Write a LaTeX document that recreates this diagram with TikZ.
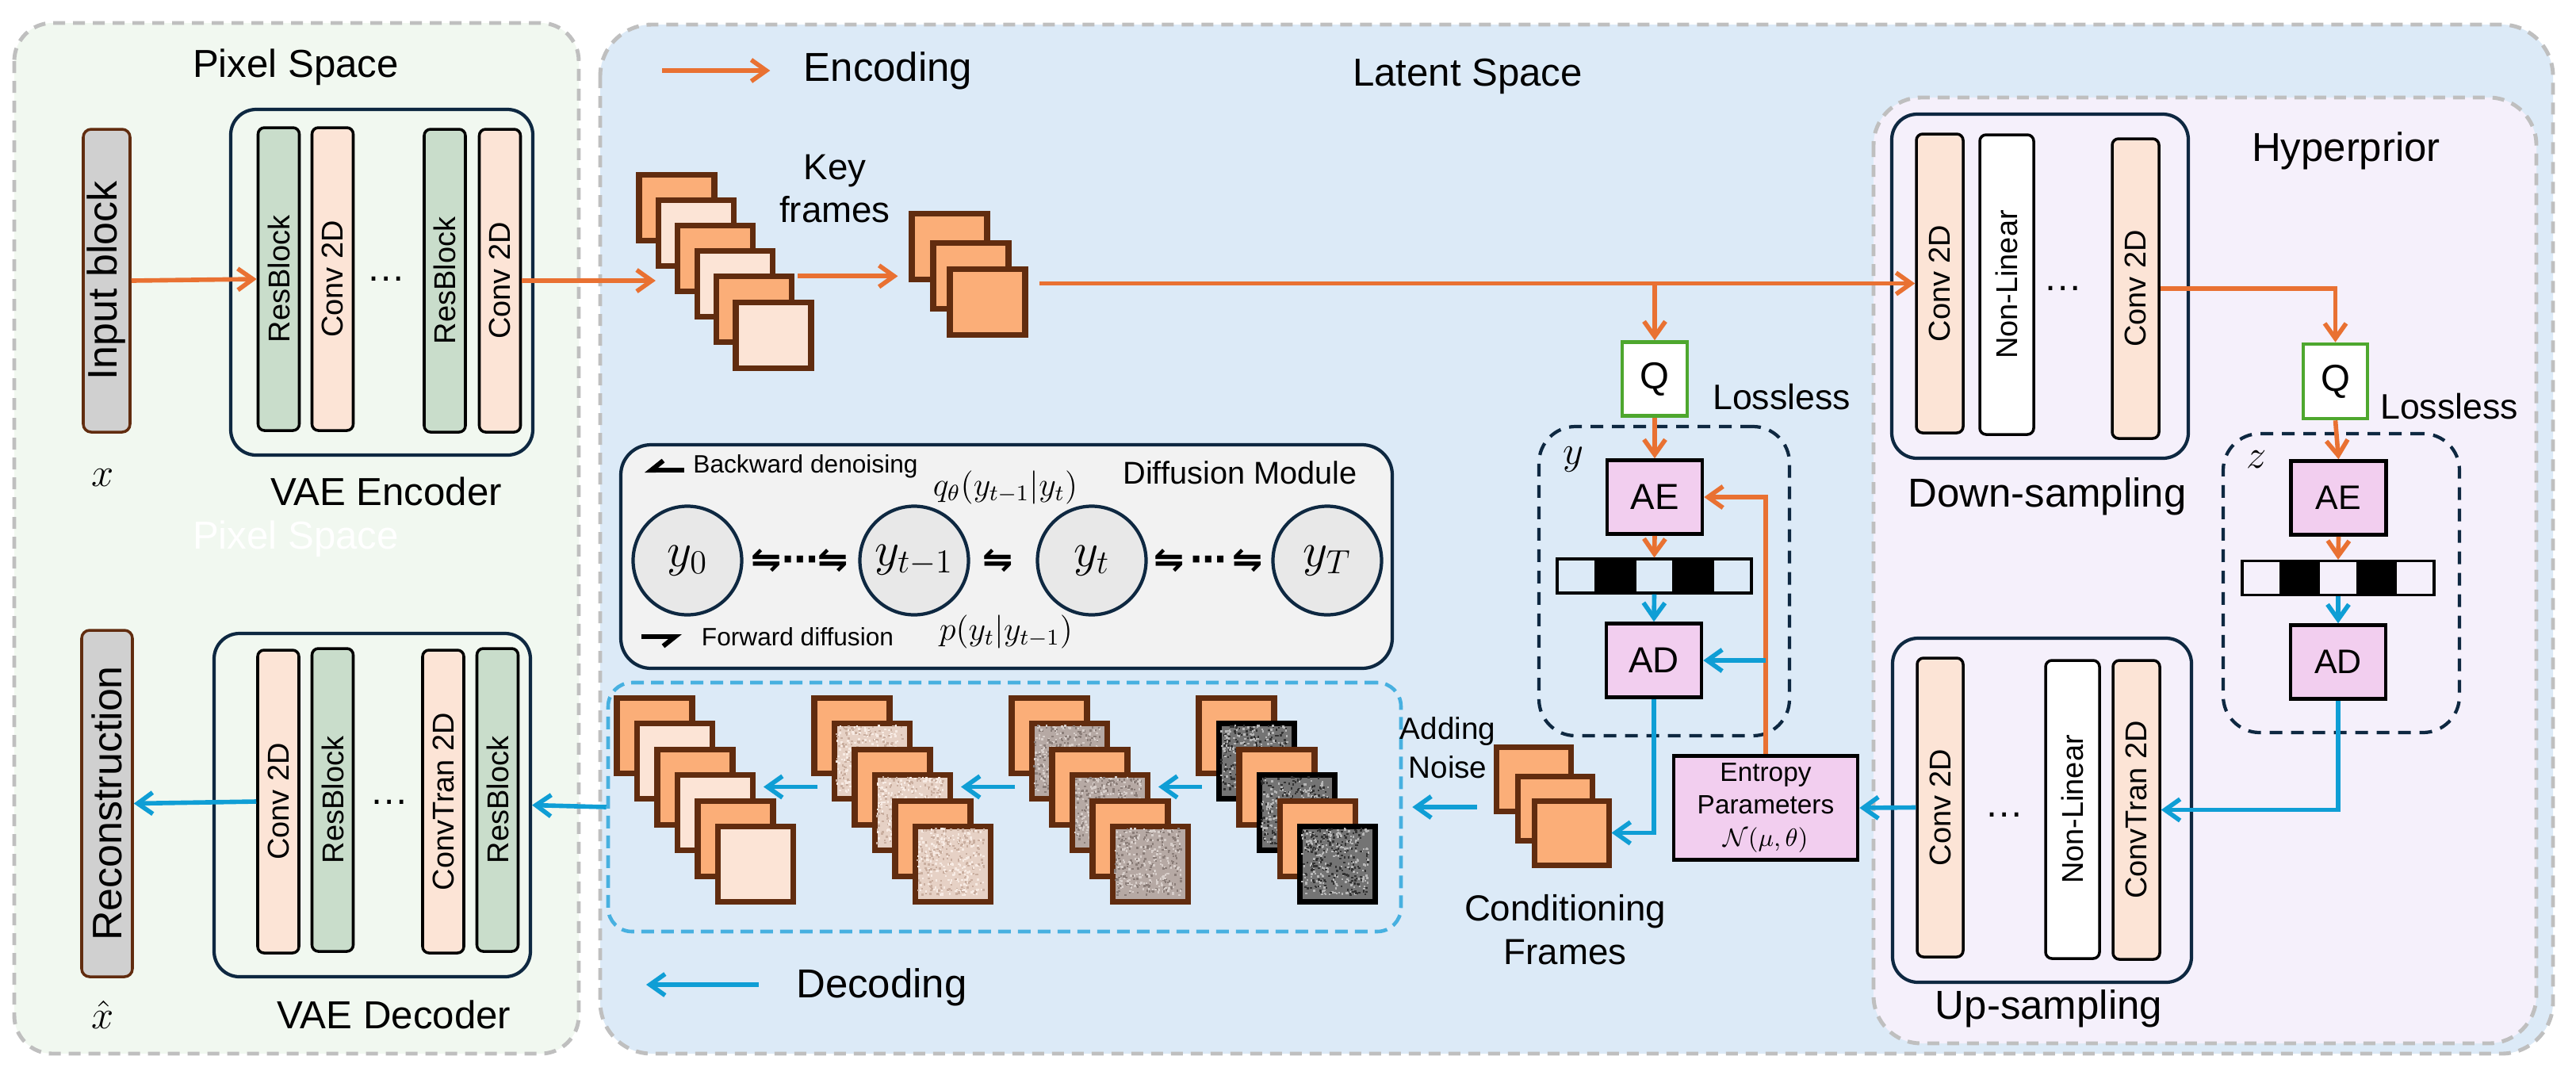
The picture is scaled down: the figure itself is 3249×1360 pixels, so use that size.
\documentclass[tikz,border=0pt]{standalone}
\usepackage{amsmath,amssymb}
\usepackage{fontspec}
\setmainfont{Liberation Sans}
\newfontfamily\harpfont{DejaVu Sans}
\usetikzlibrary{arrows.meta,calc,positioning}

\definecolor{pixelbg}{HTML}{F1F8F0}
\definecolor{latentbg}{HTML}{DCEAF7}
\definecolor{hyperbg}{HTML}{F5F0FB}
\definecolor{panelln}{HTML}{BFBFBF}
\definecolor{navy}{HTML}{0E2841}
\definecolor{brownln}{HTML}{612C0F}
\definecolor{peachdk}{HTML}{FBAE78}
\definecolor{peachlt}{HTML}{FCE4D6}
\definecolor{greenbk}{HTML}{C9DDCB}
\definecolor{grayin}{HTML}{D0D0D0}
\definecolor{encorange}{HTML}{E97132}
\definecolor{decblue}{HTML}{0F9ED5}
\definecolor{dashblue}{HTML}{47B0E0}
\definecolor{qgreen}{HTML}{4EA72E}
\definecolor{pinkbox}{HTML}{F2CEEF}
\definecolor{diffbg}{HTML}{F2F2F2}
\definecolor{circbg}{HTML}{E8E8E8}
\definecolor{noiseA}{HTML}{E6D1C5}
\definecolor{noiseAd}{HTML}{C9AE9F}
\definecolor{noiseAl}{HTML}{F7EBE4}
\definecolor{noiseB}{HTML}{B6A9A4}
\definecolor{noiseBd}{HTML}{8A7D78}
\definecolor{noiseBl}{HTML}{D8CFCB}
\definecolor{noiseC}{HTML}{747474}
\definecolor{noiseCd}{HTML}{333333}
\definecolor{noiseCl}{HTML}{B8B8B8}

\tikzset{
  panel/.style={draw=panelln, line width=1.4pt, dash pattern=on 1.5mm off 1mm},
  blk/.style={draw=navy, line width=1.2pt, rounded corners=3.2mm, inner sep=0},
  vbar/.style={draw=black, line width=1pt, rounded corners=0.8mm, inner sep=0,
    minimum width=5.2mm, minimum height=38.2mm, font=\fontsize{10.8}{13}\selectfont},
  ioblk/.style={draw=brownln, fill=grayin, line width=1pt, rounded corners=1mm, inner sep=0,
    font=\fontsize{14.8}{17}\selectfont},
  frame/.style={draw=brownln, line width=2pt, inner sep=0, minimum width=9.5mm, minimum height=8.3mm},
  sqf/.style={minimum height=9.5mm},
  pbox/.style={draw=black, line width=1.3pt, fill=pinkbox, inner sep=0,
    minimum width=12mm, minimum height=9.3mm, font=\fontsize{13}{15}\selectfont},
  qbox/.style={draw=qgreen, line width=1.3pt, fill=white, inner sep=0,
    minimum width=8.2mm, minimum height=9.3mm, font=\fontsize{13.5}{15}\selectfont},
  bitcell/.style={draw=black, line width=0.9pt, inner sep=0, minimum width=4.9mm, minimum height=4.3mm},
  ydash/.style={draw=navy, line width=1.2pt, dash pattern=on 1.6mm off 1.1mm, rounded corners=4.6mm, inner sep=0},
  circ/.style={circle, draw=navy, line width=1.2pt, fill=circbg, minimum size=13.7mm, inner sep=0,
    font=\fontsize{17}{20}\selectfont},
  hp/.style={font=\harpfont\bfseries\fontsize{13}{15}\selectfont, inner sep=0},
  dotsn/.style={font=\fontsize{14}{17}\selectfont, inner sep=0},
  ttl/.style={font=\fontsize{14}{17}\selectfont},
  big/.style={font=\fontsize{14.5}{17}\selectfont},
  mid/.style={font=\fontsize{13}{15.6}\selectfont, align=center},
  small/.style={font=\fontsize{9}{11}\selectfont},
  enc/.style={draw=encorange, line width=1.6pt, -{Straight Barb[length=1.9mm,width=2.7mm]}},
  dec/.style={draw=decblue, line width=1.6pt, -{Straight Barb[length=1.9mm,width=2.7mm]}},
  harp/.style={draw=black, line width=1.7pt, -{Straight Barb[harpoon,swap,length=1.5mm,width=2.4mm]}}
}

\begin{document}
\begin{tikzpicture}[x=0.1mm,y=-0.1mm]
\useasboundingbox (0,0) rectangle (3249,1360);
\fill[white] (0,0) rectangle (3249,1360);
\pgfmathsetseed{7}

\draw[panel, fill=pixelbg, rounded corners=4.8mm] (18,29) rectangle (730,1329);
\draw[panel, fill=latentbg, rounded corners=6.5mm] (757,31) rectangle (3220,1329);
\draw[panel, fill=hyperbg, rounded corners=6mm] (2363,123) rectangle (3199,1316);

\node[ttl] (pixlbl) at (373,85) {Pixel Space};
\node[ttl, text=white] (pixghost) at (373,680) {Pixel Space};
\node[ttl] (latlbl) at (1851,96) {Latent Space};
\node[big] (hyplbl) at (2959,190) {Hyperprior};

\node[ioblk, minimum width=5.9mm, minimum height=38.2mm] (inblock) at (134.5,354) {\rotatebox{90}{Input block}};
\node[font=\fontsize{15}{18}\selectfont] (xin) at (130,603) {$x$};
\node[blk, minimum width=38.1mm, minimum height=43.6mm] (encbox) at (481.5,356) {};
\node[vbar, fill=greenbk] (encRes1) at (351.5,352) {\rotatebox{90}{ResBlock}};
\node[vbar, fill=peachlt] (encConv1) at (419.5,352) {\rotatebox{90}{Conv 2D}};
\node[dotsn] (encDots) at (487,352) {\ldots};
\node[vbar, fill=greenbk] (encRes2) at (561,354) {\rotatebox{90}{ResBlock}};
\node[vbar, fill=peachlt] (encConv2) at (630.5,354) {\rotatebox{90}{Conv 2D}};
\node[ttl] (enclbl) at (487,620) {VAE Encoder};

\node[ioblk, minimum width=6.4mm, minimum height=43.7mm] (recon) at (135,1013.5) {\rotatebox{90}{Reconstruction}};
\node[font=\fontsize{15}{18}\selectfont] (xout) at (130,1280) {$\hat{x}$};
\node[blk, minimum width=39.9mm, minimum height=43.3mm] (decbox) at (469.5,1015.5) {};
\node[vbar, fill=peachlt] (decConv) at (351,1011) {\rotatebox{90}{Conv 2D}};
\node[vbar, fill=greenbk] (decRes1) at (419.5,1009) {\rotatebox{90}{ResBlock}};
\node[dotsn] (decDots) at (491,1012) {\ldots};
\node[vbar, fill=peachlt] (decCT) at (559,1011) {\rotatebox{90}{ConvTran 2D}};
\node[vbar, fill=greenbk] (decRes2) at (627.5,1009) {\rotatebox{90}{ResBlock}};
\node[ttl] (declbl) at (497,1280) {VAE Decoder};

\coordinate (encA) at (835,89);
\node[big] (legenc) at (1120,89) {Encoding};
\draw[enc] (encA) -- ([xshift=-3mm]legenc.west);
\coordinate (decA) at (815,1242);
\node[big] (legdec) at (1112,1245) {Decoding};
\draw[dec] ([xshift=-3.5mm]legdec.west |- decA) -- (decA);

\foreach \k in {1,...,6} {
  \pgfmathsetmacro\fx{806+24.4*(\k-1)+47.5}
  \pgfmathsetmacro\fy{220+32.2*(\k-1)+41.5}
  \ifodd\k\relax \def\fc{peachdk}\else \def\fc{peachlt}\fi
  \node[frame, fill=\fc] (kf\k) at (\fx,\fy) {};
}
\node[mid] (kflbl) at (1053,238) {Key\\frames};
\node[frame, fill=peachdk] (lf1) at (1197.5,310.5) {};
\node[frame, fill=peachdk] (lf2) at (1224.5,347.5) {};
\node[frame, fill=peachdk] (lf3) at (1245.5,380.5) {};

\node[draw=navy, line width=1.2pt, fill=diffbg, rounded corners=3.8mm, minimum width=97.3mm, minimum height=28.2mm] (diffbox) at (1269.5,702) {};
\node[small] (bwlbl) at (1016,588) {Backward denoising};
\node[small] (fwlbl) at (1006,803) {Forward diffusion};
\coordinate (bwA) at (863,593);
\coordinate (bwB) at (813,593);
\coordinate (fwA) at (809,803);
\coordinate (fwB) at (860,803);
\draw[harp] (bwA) -- (bwB);
\draw[harp] (fwA) -- (fwB);
\node[font=\fontsize{11.3}{14}\selectfont] (difflbl) at (1564,596) {Diffusion Module};
\node[font=\fontsize{11.5}{13}\selectfont] (qlbl) at (1268,615) {$q_\theta(y_{t-1}|y_t)$};
\node[font=\fontsize{11.5}{13}\selectfont] (plbl) at (1269,797) {$p(y_t|y_{t-1})$};
\node[circ] (c0) at (867,707) {$y_0$};
\node[circ] (c1) at (1153,707) {$y_{t-1}$};
\node[circ] (c2) at (1377,707) {$y_t$};
\node[circ] (c3) at (1674,707) {$y_T$};
\node[hp] (h1) at (1009,707) {⇋⋯⇋};
\node[hp] (h2) at (1259,707) {⇋};
\node[hp] (h3) at (1524,707) {⇋\,⋯\,⇋};

\node[draw=dashblue, line width=1.3pt, dash pattern=on 1.6mm off 0.9mm, rounded corners=3mm, minimum width=100mm, minimum height=31.4mm] (noisebox) at (1267,1018) {};
\foreach \cc/\cx/\nc/\nd/\nl/\nb in {1/778/peachlt/none/none/brownln, 2/1027/noiseA/noiseAd/noiseAl/brownln, 3/1276/noiseB/noiseBd/noiseBl/brownln, 4/1512/noiseC/noiseCd/noiseCl/black} {
  \foreach \k in {1,...,6} {
    \pgfmathsetmacro\fx{\cx+25.5*(\k-1)+47.5}
    \pgfmathsetmacro\fy{880+32.5*(\k-1)+47.5}
    \ifodd\k\relax
      \node[frame, sqf, fill=peachdk] (n\cc\k) at (\fx,\fy) {};
    \else
      \node[frame, sqf, fill=\nc, draw=\nb] (n\cc\k) at (\fx,\fy) {};
      \ifnum\cc>1
        \foreach \d in {1,...,200} {
          \fill[\nd] ($(n\cc\k.north west)+({rnd*84+5},{rnd*84+5})$) rectangle +(2.5,2.5);
          \fill[\nl] ($(n\cc\k.north west)+({rnd*84+5},{rnd*84+5})$) rectangle +(2.5,2.5);
        }
      \fi
    \fi
  }
}
\foreach \cc/\pp in {2/1,3/2,4/3}
  \draw[dec, shorten <=4.3mm, shorten >=1mm] (n\cc3.west) -- (n\cc3.west -| n\pp4.east);

\node[qbox] (qy) at (2087,478) {Q};
\node[font=\fontsize{12.7}{15}\selectfont] (lossy) at (2247,501) {Lossless};
\node[ydash, minimum width=31.6mm, minimum height=39mm] (ybox) at (2099,733) {};
\node[font=\fontsize{14}{16}\selectfont] (ylbl) at (1984,580) {$y$};
\node[pbox] (ae) at (2087,627) {AE};
\foreach \i/\cl in {1/none,2/black,3/none,4/black,5/none}
  \node[bitcell, fill=\cl] (yb\i) at ({1964+49*(\i-0.5)},726.5) {};
\node[pbox] (ad) at (2086,833) {AD};
\node[pbox, minimum width=23.2mm, minimum height=13.1mm, align=center, font=\fontsize{9.5}{11.7}\selectfont] (ent) at (2227,1019) {Entropy\\Parameters\\$\mathcal{N}(\mu,\theta)$};

\node[frame, fill=peachdk, minimum width=9.4mm, minimum height=8.1mm] (cf1) at (1934,982.5) {};
\node[frame, fill=peachdk, minimum width=9.4mm, minimum height=8.1mm] (cf2) at (1961,1019.5) {};
\node[frame, fill=peachdk, minimum width=9.4mm, minimum height=8.1mm] (cf3) at (1982,1050.5) {};
\node[font=\fontsize{11}{14}\selectfont, align=center] (addlbl) at (1826,943) {Adding\\Noise};
\node[mid] (cflbl) at (1974,1173) {Conditioning\\Frames};

\node[blk, minimum width=37.4mm, minimum height=43.4mm] (dsbox) at (2573,361) {};
\node[vbar, fill=peachlt, minimum width=5.9mm, minimum height=37.7mm] (dsConv1) at (2446.5,357.5) {\rotatebox{90}{Conv 2D}};
\node[vbar, fill=white, minimum width=6.8mm, minimum height=37.8mm] (dsNL) at (2531,359) {\rotatebox{90}{Non-Linear}};
\node[dotsn] (dsDots) at (2602,364) {\ldots};
\node[vbar, fill=peachlt, minimum width=5.9mm, minimum height=37.8mm] (dsConv2) at (2693.5,364) {\rotatebox{90}{Conv 2D}};
\node[big] (dslbl) at (2582,626) {Down-sampling};

\node[blk, minimum width=37.7mm, minimum height=43.4mm] (usbox) at (2575.5,1022) {};
\node[vbar, fill=peachlt, minimum width=5.8mm, minimum height=37.7mm] (upConv) at (2447,1018.5) {\rotatebox{90}{Conv 2D}};
\node[dotsn] (upDots) at (2528,1028) {\ldots};
\node[vbar, fill=white, minimum width=6.8mm, minimum height=37.6mm] (upNL) at (2614,1021) {\rotatebox{90}{Non-Linear}};
\node[vbar, fill=peachlt, minimum width=5.9mm, minimum height=37.7mm] (upCT) at (2694.5,1021.5) {\rotatebox{90}{ConvTran 2D}};
\node[big] (uslbl) at (2584,1272) {Up-sampling};

\node[qbox, minimum width=8.1mm, minimum height=9.4mm] (qz) at (2945.5,481) {Q};
\node[font=\fontsize{12.7}{15}\selectfont] (lossz) at (3089,513) {Lossless};
\node[ydash, minimum width=29.8mm, minimum height=37.7mm] (zbox) at (2953,735.5) {};
\node[font=\fontsize{14}{16}\selectfont] (zlbl) at (2846,580) {$z$};
\node[pbox, font=\fontsize{12.2}{15}\selectfont] (ae2) at (2949.5,628) {AE};
\foreach \i/\cl in {1/none,2/black,3/none,4/black,5/none}
  \node[bitcell, fill=\cl, minimum width=4.84mm] (zb\i) at ({2828+48.4*(\i-0.5)},729) {};
\node[pbox, font=\fontsize{12.2}{15}\selectfont] (ad2) at (2949,835) {AD};

\draw[enc] (inblock.east) -- (encRes1.west);
\draw[enc] (encConv2.east) -- (encConv2.east -| kf2.west);
\draw[enc, shorten <=0.4mm, shorten >=1.4mm] ([yshift=-0.3mm]kf5.north east) -- ([yshift=-0.3mm]kf5.north east -| lf1.west);
\draw[enc, shorten <=1.4mm] (lf3.east |- dsConv1.west) -- (dsConv1.west);
\draw[enc] (qy.north |- dsConv1.west) -- (qy.north);
\draw[enc] (qy.south) -- (ae.north);
\draw[enc] (ae.south) -- (yb3.north);
\draw[dec] (yb3.south) -- (ad.north);
\draw[enc] (ent.north) |- (ae.east);
\draw[dec] (ent.north |- ad.east) -- (ad.east);
\draw[dec] (ad.south) |- (cf3.east);
\draw[dec, shorten <=2.1mm, shorten >=1.2mm] (cf1.west |- noisebox.east) -- (noisebox.east);
\draw[dec] (noisebox.west) -- (decbox.east);
\draw[dec] (decConv.west) -- (recon.east);
\draw[enc] (dsConv2.east) -| (qz.north);
\draw[enc] (qz.south) -- (ae2.north);
\draw[enc] (ae2.south) -- (zb3.north);
\draw[dec] (zb3.south) -- (ad2.north);
\draw[dec] (ad2.south) |- (upCT.east);
\draw[dec] (upConv.west) -- (ent.east);
\end{tikzpicture}
\end{document}
